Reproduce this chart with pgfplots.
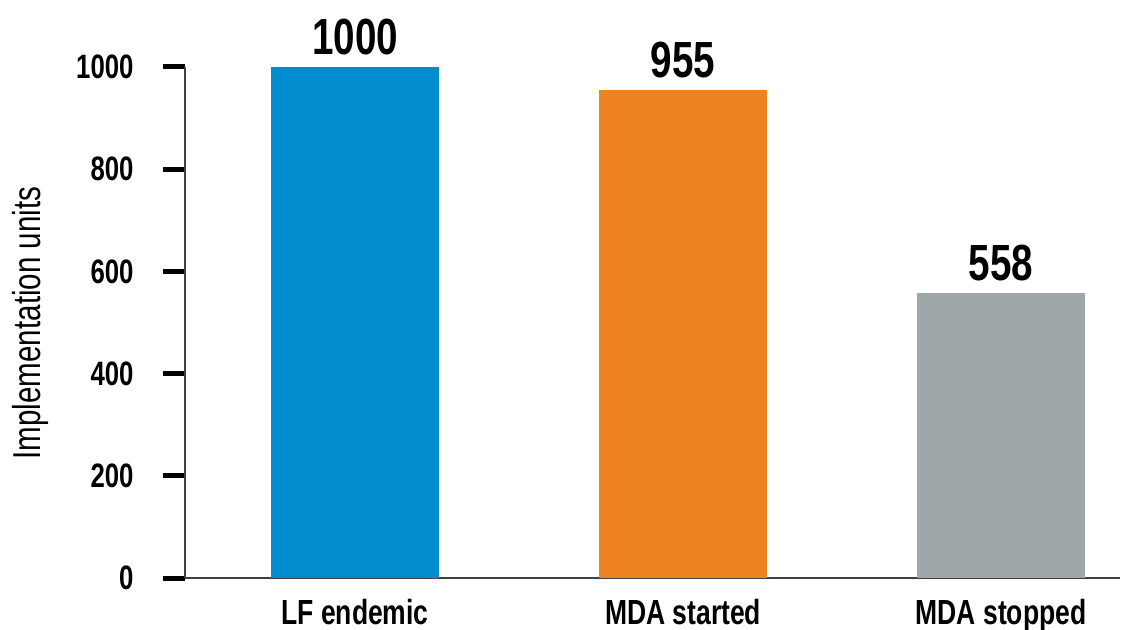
\documentclass[border=0pt]{standalone}
\usepackage{fontspec}
\setmainfont{Liberation Sans}[FakeStretch=0.76]
\usepackage{pgfplots}
\pgfplotsset{compat=1.18}

\definecolor{cblue}{HTML}{008CCE}
\definecolor{corange}{HTML}{EE8421}
\definecolor{cgray}{HTML}{A0A7A8}

\begin{document}
\begin{tikzpicture}
\path[use as bounding box] (-185bp,-52bp) rectangle (938bp,578bp);
\begin{axis}[
    at={(0,0)}, anchor=south west,
    scale only axis,
    width=935bp, height=511bp,
    xmin=-0.5263, xmax=2.368,
    ymin=0, ymax=1000,
    axis lines=left,
    axis line style={black!75, line width=1.2bp, -},
    clip=false,
    xtick={0,1.0155,2},
    xticklabels={LF endemic, MDA started, MDA stopped},
    xtick style={draw=none},
    xticklabel style={font=\fontsize{35}{37}\selectfont\bfseries, yshift=4bp},
    ytick={0,200,400,600,800,1000},
    ytick style={black, line width=5bp},
    major tick length=22bp,
    tick align=outside,
    /pgf/number format/assume math mode=true,
    /pgf/number format/1000 sep={},
    yticklabel style={font=\fontsize{34}{36}\selectfont\bfseries, xshift=-26bp},
    ylabel={Implementation units},
    ylabel style={font=\fontsize{39}{42}\selectfont, at={(-155bp,255bp)}, anchor=center, rotate=0},
    ybar, bar width=168bp,
    nodes near coords,
    nodes near coords style={font=\fontsize{51}{54}\selectfont\bfseries, anchor=south, yshift=8bp, black},
]
\addplot[fill=cblue, draw=none, bar shift=0pt] coordinates {(0,1000)};
\addplot[fill=corange, draw=none, bar shift=0pt] coordinates {(1.0155,955)};
\addplot[fill=cgray, draw=none, bar shift=0pt] coordinates {(2,558)};
\end{axis}
\end{tikzpicture}
\end{document}
